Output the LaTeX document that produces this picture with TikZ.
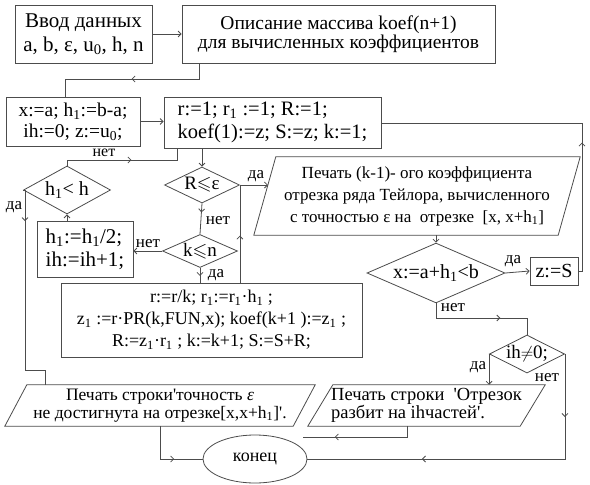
\documentclass[tikz,border=0pt]{standalone}
\usepackage{fontspec}
\setmainfont{Liberation Serif}
\usepackage{amssymb}
\usetikzlibrary{shapes.geometric,arrows.meta,decorations.markings,calc}
\newcommand{\myfs}[2]{\fontsize{#1}{#2}\selectfont}
\newcommand{\sub}[1]{\textsubscript{#1}}
\newcommand{\q}{\textquotesingle}
\newcommand{\drawpgram}[2]{\draw[line] ([xshift=#2]#1.north west) -- ([xshift=#2]#1.north east) -- ([xshift=-#2]#1.south east) -- ([xshift=-#2]#1.south west) -- cycle;}
\begin{document}
\begin{tikzpicture}[x=1pt,y=-1pt,
  line/.style={draw=black!70, line width=0.8pt},
  box/.style={draw=black!70, line width=0.8pt, rectangle, inner sep=0pt, align=center},
  pbox/.style={rectangle, inner sep=0pt, align=center},
  dia/.style={draw=black!70, line width=0.8pt, diamond, inner sep=0pt, aspect=2},
  tip/.style={-{Straight Barb[length=3pt,width=6pt]}},
  midtip/.style={postaction={decorate,decoration={markings,mark=at position #1 with {\arrow{Straight Barb[length=3pt,width=6pt]}}}}},
  lbl/.style={font=\myfs{17}{17}, inner sep=0pt},
]
\useasboundingbox (0,0) rectangle (590,485);
\fill[white] (0,0) rectangle (590,485);

% nodes
\node[box, minimum width=137pt, minimum height=58pt, font=\myfs{21}{24}] (in) at (83.5,34) {Ввод данных\\a, b, ε, u\sub{0}, h, n};
\node[box, minimum width=313pt, minimum height=58pt, font=\myfs{19.5}{19}] (desc) at (338.5,34) {Описание массива koef(n+1)\\для вычисленных коэффициентов};
\node[box, minimum width=134pt, minimum height=49pt, font=\myfs{19.5}{21}] (init) at (73,121.5) {x:=a; h\sub{1}:=b-a;\\ih:=0; z:=u\sub{0};};
\node[box, minimum width=217pt, minimum height=51pt, font=\myfs{20.5}{23}, align=left] (init2) at (272.5,122.5) {r:=1; r\sub{1} :=1; R:=1;\\koef(1):=z; S:=z; k:=1;};
\node[dia, minimum width=87pt, minimum height=48pt, font=\myfs{20}{20}] (dh) at (67,190) {h\sub{1}< h};
\node[dia, minimum width=75pt, minimum height=36pt, font=\myfs{19}{19}] (dr) at (202,185) {R$\leqslant$ε};
\node[dia, minimum width=75pt, minimum height=33pt, font=\myfs{19}{19}] (dk) at (200,251) {k$\leqslant$n};
\node[box, minimum width=96pt, minimum height=56pt, font=\myfs{21}{23}, align=left] (half) at (85,249) {h\sub{1}:=h\sub{1}/2;\\ ih:=ih+1;};
\node[box, minimum width=301pt, minimum height=74pt, font=\myfs{18}{22}] (body) at (211.5,320) {r:=r/k; r\sub{1}:=r\sub{1}·h\sub{1} ;\\z\sub{1} :=r·PR(k,FUN,x); koef(k+1 ):=z\sub{1} ;\\R:=z\sub{1}·r\sub{1} ; k:=k+1; S:=S+R;};
\node[pbox, minimum width=304pt, minimum height=78pt, font=\myfs{17}{22}] (pr) at (417,196) {Печать (k-1)- ого коэффициента\\отрезка ряда Тейлора, вычисленного\\с точностью ε на\ \ отрезке\ \ [x, x+h\sub{1}]};
\drawpgram{pr}{11pt}
\node[dia, minimum width=138pt, minimum height=53pt, font=\myfs{20}{20}] (decx) at (436,273) {x:=a+h\sub{1}<b};
\node[box, minimum width=48pt, minimum height=28pt, font=\myfs{20}{20}] (zs) at (554,271) {z:=S};
\node[dia, minimum width=70pt, minimum height=38pt, font=\myfs{19}{19}] (dih) at (527,354) {ih$\neq$0;};
\node[pbox, minimum width=288pt, minimum height=41pt, font=\myfs{17.5}{18}] (p2) at (160,405.5) {Печать строки\q точность \textit{ε}\\не достигнута на отрезке[x,x+h\sub{1}]\q.};
\drawpgram{p2}{11pt}
\node[pbox, minimum width=212pt, minimum height=41pt, font=\myfs{18.5}{18}, align=left] (p3) at (426.5,405.5) {Печать строки\ \ \q Отрезок\\разбит на ihчастей\q.};
\drawpgram{p3}{12.5pt}
\node[draw=black!70, line width=0.8pt, ellipse, minimum width=104pt, minimum height=48pt, inner sep=0pt, font=\myfs{18}{18}] (end) at (255,459) {конец};

% helper coordinates
\coordinate (j1) at (199,79);
\coordinate (j2) at (65,79);
\coordinate (r1) at (582,271);
\coordinate (r2) at (582,123);
\coordinate (n1) at (67,160);
\coordinate (n2) at (177,160);
\coordinate (d1) at (25,370);
\coordinate (d2) at (45,370);
\coordinate (prin) at (268,185);
\coordinate (x1) at (436,318);
\coordinate (x2) at (527,318);
\coordinate (q1) at (407,437);
\coordinate (e3) at (303,437);

% connectors
\draw[line, tip] (in.east) -- (desc.west);
\draw[line, midtip=83pt] (desc.south -| j1) -- (j1) -- (j2) -- (init.north -| j2);
\draw[line, tip] (init.east) -- (init.east -| init2.west);
\draw[line, midtip=132pt] (zs.east) -- (r1) -- (r2) -- (init2.east |- r2);
\draw[line, tip] (init2.south -| dr.north) -- (dr.north);
\draw[line, midtip=70pt] (dh.north) -- (n1) -- (n2) -- (init2.south -| n2);
\draw[line, midtip=33pt] (dh.west) -- (dh.west -| d1) -- (d1) -- (d2) -- (p2.north -| d2);
\draw[line, tip] (half.north -| dh.south) -- (dh.south);
\draw[line, tip] (dr.east) -- (prin);
\draw[line, midtip=47pt] (body.north -| dr.east) -- (dr.east);
\draw[line, midtip=9pt] (dr.south) -- (dk.north);
\draw[line, tip] (dk.west) -- (dk.west -| half.east);
\draw[line, midtip=8pt] (dk.south) -- (body.north -| dk.south);
\draw[line, tip] (pr.south -| decx.north) -- (decx.north);
\draw[line, tip] (decx.east) -- (zs.west);
\draw[line, midtip=79pt] (decx.south) -- (x1) -- (x2) -- (dih.north);
\draw[line, tip] (dih.west) -- (dih.west |- p3.north);
\draw[line, midtip=63pt, midtip=248pt] (dih.east) -- (dih.east |- end.east) -- (end.east);
\draw[line, midtip=47pt] (p2.south) |- (end.west);
\draw[line, midtip=83pt] (p3.south -| q1) -- (q1) -- (e3);

% labels
\node[lbl, font=\myfs{16}{16}] (l1) at (104,153) {нет};
\node[lbl] (l2) at (14,207) {да};
\node[lbl] (l3) at (256,176) {да};
\node[lbl] (l4) at (218,221) {нет};
\node[lbl] (l5) at (148,244) {нет};
\node[lbl] (l6) at (216,275) {да};
\node[lbl] (l7) at (513,261) {да};
\node[lbl] (l8) at (453,308) {нет};
\node[lbl] (l9) at (478,367) {да};
\node[lbl] (l10) at (547,378) {нет};
\end{tikzpicture}
\end{document}
